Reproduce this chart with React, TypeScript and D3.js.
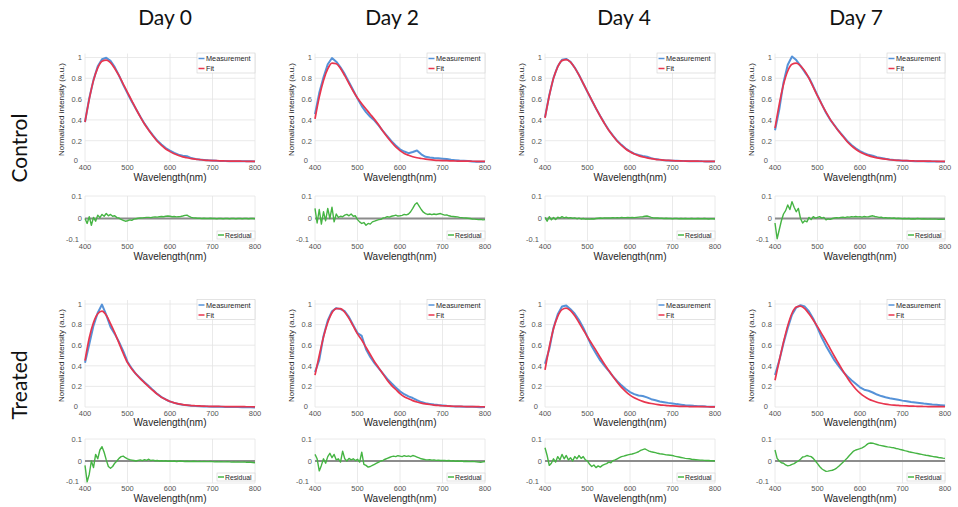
import React from "react";
import * as d3 from "d3";

// ---- sampling grids and axis labels ----
const DAYS = ["Day 0", "Day 2", "Day 4", "Day 7"];
const GROUPS = ["Control", "Treated"];

const FIT_WAVELENGTHS = d3.range(400, 801, 10); // nm, 41 samples
const RESIDUAL_WAVELENGTHS = d3.range(400, 801, 5); // nm, 81 samples

const X_TICKS = [400, 500, 600, 700, 800];
const INTENSITY_TICKS = [0, 0.2, 0.4, 0.6, 0.8, 1];
const INTENSITY_TICK_LABELS = ["0", "0.2", "0.4", "0.6", "0.8", "1"];
const RESIDUAL_TICKS = [-0.1, 0, 0.1];
const RESIDUAL_TICK_LABELS = ["-0.1", "0", "0.1"];

// ---- fitted spectra (normalized intensity, 400–800 nm every 10 nm) ----
const fitControlDay0 = [
  0.38, 0.6, 0.78, 0.9, 0.965, 0.975, 0.95, 0.895, 0.825, 0.745, 0.665, 0.585, 0.505, 0.43, 0.36, 0.3,
  0.245, 0.195, 0.155, 0.12, 0.095, 0.074, 0.058, 0.045, 0.036, 0.028, 0.022, 0.018, 0.014, 0.011, 0.009,
  0.0075, 0.006, 0.005, 0.0042, 0.0035, 0.003, 0.0025, 0.002, 0.0018, 0.0015,
];
const fitControlDay2 = [
  0.41, 0.62, 0.78, 0.89, 0.945, 0.94, 0.895, 0.825, 0.75, 0.675, 0.61, 0.555, 0.505, 0.455, 0.405, 0.35,
  0.29, 0.235, 0.185, 0.14, 0.105, 0.078, 0.06, 0.046, 0.036, 0.029, 0.023, 0.018, 0.014, 0.011, 0.009,
  0.0075, 0.006, 0.005, 0.004, 0.0035, 0.003, 0.0025, 0.002, 0.0018, 0.0015,
];
const fitControlDay4 = [
  0.42, 0.63, 0.8, 0.91, 0.97, 0.98, 0.955, 0.9, 0.83, 0.75, 0.67, 0.59, 0.51, 0.435, 0.365, 0.3, 0.245,
  0.195, 0.155, 0.12, 0.093, 0.072, 0.056, 0.044, 0.035, 0.027, 0.021, 0.017, 0.013, 0.01, 0.008, 0.0065,
  0.0055, 0.0045, 0.004, 0.0033, 0.0028, 0.0023, 0.002, 0.0017, 0.0015,
];
const fitControlDay7 = [
  0.32, 0.55, 0.74, 0.87, 0.935, 0.945, 0.92, 0.87, 0.8, 0.715, 0.63, 0.55, 0.475, 0.405, 0.345, 0.29,
  0.24, 0.19, 0.15, 0.118, 0.092, 0.072, 0.056, 0.044, 0.035, 0.028, 0.022, 0.017, 0.013, 0.011, 0.009,
  0.0075, 0.006, 0.005, 0.004, 0.0035, 0.003, 0.0025, 0.002, 0.0018, 0.0015,
];
const fitTreatedDay0 = [
  0.45, 0.67, 0.82, 0.905, 0.93, 0.89, 0.81, 0.72, 0.62, 0.52, 0.43, 0.37, 0.32, 0.275, 0.235, 0.195,
  0.16, 0.125, 0.095, 0.072, 0.053, 0.04, 0.03, 0.023, 0.018, 0.014, 0.012, 0.01, 0.008, 0.007, 0.006,
  0.0055, 0.005, 0.0045, 0.004, 0.0035, 0.003, 0.003, 0.0025, 0.0025, 0.002,
];
const fitTreatedDay2 = [
  0.31, 0.5, 0.68, 0.82, 0.915, 0.955, 0.955, 0.92, 0.86, 0.785, 0.71, 0.65, 0.58, 0.51, 0.44, 0.38,
  0.32, 0.26, 0.21, 0.17, 0.13, 0.1, 0.08, 0.062, 0.048, 0.038, 0.03, 0.024, 0.019, 0.015, 0.012, 0.01,
  0.008, 0.007, 0.006, 0.005, 0.004, 0.0035, 0.003, 0.0025, 0.002,
];
const fitTreatedDay4 = [
  0.36, 0.58, 0.76, 0.88, 0.945, 0.96, 0.935, 0.885, 0.82, 0.75, 0.68, 0.615, 0.55, 0.48, 0.415, 0.355,
  0.295, 0.24, 0.19, 0.15, 0.115, 0.09, 0.07, 0.055, 0.043, 0.034, 0.027, 0.021, 0.017, 0.013, 0.01,
  0.008, 0.0065, 0.0055, 0.0045, 0.004, 0.0035, 0.003, 0.0025, 0.002, 0.002,
];
const fitTreatedDay7 = [
  0.26, 0.45, 0.63, 0.79, 0.91, 0.97, 0.98, 0.955, 0.905, 0.845, 0.78, 0.71, 0.64, 0.565, 0.49, 0.42,
  0.35, 0.285, 0.225, 0.175, 0.135, 0.103, 0.078, 0.06, 0.046, 0.036, 0.028, 0.022, 0.018, 0.015, 0.012,
  0.01, 0.0085, 0.0072, 0.006, 0.005, 0.0045, 0.004, 0.0035, 0.003, 0.0025,
];

// ---- residuals (measurement − fit, 400–800 nm every 5 nm) ----
const residualControlDay0 = [
  0.0, -0.022, 0.008, -0.03, 0.005, -0.012, 0.015, 0.004, 0.018, 0.01, 0.022, 0.012, 0.018, 0.01, 0.012,
  0.004, 0.002, -0.004, -0.008, -0.012, -0.01, -0.006, -0.008, -0.003, -0.001, 0.001, 0.002, 0.003, 0.004,
  0.005, 0.005, 0.004, 0.006, 0.007, 0.006, 0.008, 0.009, 0.008, 0.01, 0.011, 0.01, 0.008, 0.009, 0.007,
  0.008, 0.009, 0.011, 0.014, 0.015, 0.009, 0.005, 0.003, 0.002, 0.001, 0.001, 0.0, 0.001, 0.0, 0.0, 0.001,
  0.0, 0.0, -0.001, 0.0, 0.0, -0.001, 0.0, 0.0, -0.001, 0.0, 0.0, -0.001, 0.0, 0.0, -0.001, 0.0, 0.0,
  -0.001, 0.0, 0.0, -0.001,
];
const residualControlDay2 = [
  0.045, -0.02, 0.04, -0.025, 0.03, -0.01, 0.045, 0.0, 0.05, -0.015, 0.02, 0.005, 0.01, 0.008, 0.015,
  0.018, 0.012, 0.02, 0.01, 0.012, -0.005, -0.015, -0.022, -0.018, -0.03, -0.022, -0.025, -0.015, -0.012,
  -0.008, -0.005, -0.004, 0.002, 0.004, 0.008, 0.006, 0.01, 0.012, 0.015, 0.011, 0.012, 0.014, 0.018,
  0.016, 0.02, 0.03, 0.045, 0.062, 0.07, 0.055, 0.04, 0.028, 0.022, 0.018, 0.02, 0.017, 0.02, 0.018, 0.02,
  0.022, 0.018, 0.015, 0.016, 0.012, 0.01, 0.009, 0.008, 0.007, 0.005, 0.004, 0.003, 0.002, 0.001, 0.0,
  -0.002, -0.003, -0.004, -0.005, -0.004, -0.006, -0.005,
];
const residualControlDay4 = [
  0.005, -0.012, 0.008, -0.006, 0.004, -0.004, 0.006, 0.002, 0.008, 0.003, 0.006, 0.002, 0.004, 0.001,
  0.003, -0.001, 0.002, -0.002, 0.0, -0.003, -0.002, -0.003, -0.001, -0.002, 0.0, 0.001, 0.002, 0.001,
  0.003, 0.002, 0.003, 0.002, 0.004, 0.003, 0.004, 0.003, 0.005, 0.004, 0.004, 0.005, 0.004, 0.005, 0.004,
  0.005, 0.006, 0.007, 0.008, 0.01, 0.011, 0.008, 0.005, 0.003, 0.002, 0.002, 0.001, 0.001, 0.0, 0.001,
  0.0, 0.0, -0.001, 0.0, 0.0, -0.001, 0.0, -0.001, 0.0, -0.001, -0.001, 0.0, -0.001, -0.001, 0.0, -0.001,
  -0.001, 0.0, -0.001, -0.002, -0.001, -0.001, -0.002,
];
const residualControlDay7 = [
  -0.02, -0.09, -0.05, -0.01, 0.02, 0.035, 0.06, 0.04, 0.075, 0.05, 0.03, 0.045, 0.0, -0.02, -0.01,
  -0.015, 0.005, -0.005, 0.008, 0.002, 0.005, 0.008, 0.002, 0.005, -0.006, -0.002, -0.004, 0.0, 0.002,
  0.004, 0.003, 0.005, 0.006, 0.004, 0.007, 0.006, 0.008, 0.007, 0.009, 0.007, 0.008, 0.006, 0.009, 0.007,
  0.008, 0.01, 0.012, 0.009, 0.007, 0.005, 0.006, 0.003, 0.004, 0.002, 0.003, 0.001, 0.002, 0.0, 0.001,
  0.0, -0.001, 0.0, -0.001, 0.0, -0.002, -0.001, -0.002, 0.0, -0.001, -0.002, -0.001, -0.002, -0.003,
  -0.002, -0.003, -0.002, -0.003, -0.004, -0.003, -0.004, -0.003,
];
const residualTreatedDay0 = [
  -0.02, -0.095, -0.06, 0.0, -0.03, 0.03, 0.01, 0.05, 0.065, 0.04, 0.005, -0.025, -0.033, -0.025, -0.01,
  0.0, 0.012, 0.02, 0.022, 0.015, 0.01, 0.006, 0.004, 0.002, 0.0, 0.003, 0.005, 0.002, 0.006, 0.003, 0.008,
  0.002, 0.004, 0.001, 0.002, 0.0, 0.001, 0.0, 0.001, -0.001, 0.0, -0.001, 0.0, -0.002, -0.001, 0.0,
  -0.001, -0.002, -0.001, -0.002, -0.002, -0.001, -0.002, -0.003, -0.002, -0.003, -0.002, -0.003, -0.003,
  -0.002, -0.003, -0.004, -0.003, -0.004, -0.003, -0.004, -0.004, -0.003, -0.004, -0.005, -0.004, -0.005,
  -0.004, -0.005, -0.005, -0.004, -0.006, -0.005, -0.006, -0.007, -0.008,
];
const residualTreatedDay2 = [
  0.03, 0.01, -0.045, -0.02, 0.01, -0.01, 0.02, 0.035, 0.015, 0.03, 0.005, 0.01, -0.005, 0.045, 0.01, 0.0,
  0.012, 0.005, 0.01, 0.002, 0.008, -0.005, 0.04, -0.015, -0.02, -0.028, -0.025, -0.02, -0.015, -0.01,
  -0.005, 0.0, 0.003, 0.008, 0.012, 0.016, 0.02, 0.022, 0.02, 0.024, 0.022, 0.02, 0.024, 0.021, 0.023,
  0.02, 0.025, 0.022, 0.018, 0.014, 0.01, 0.008, 0.006, 0.005, 0.006, 0.004, 0.005, 0.003, 0.004, 0.002,
  0.003, 0.002, 0.001, 0.002, 0.0, 0.001, -0.001, 0.0, -0.001, 0.0, -0.002, -0.001, -0.002, -0.003, -0.002,
  -0.003, -0.004, -0.005, -0.006, -0.004, -0.002,
];
const residualTreatedDay4 = [
  0.06, 0.025, -0.02, -0.01, 0.01, -0.005, 0.02, 0.005, 0.03, 0.01, 0.025, 0.005, 0.015, 0.0, 0.02, 0.01,
  0.025, 0.012, 0.02, 0.005, 0.0, -0.015, -0.025, -0.018, -0.03, -0.022, -0.028, -0.02, -0.015, -0.012,
  -0.005, -0.008, 0.002, 0.005, 0.01, 0.015, 0.02, 0.022, 0.025, 0.028, 0.03, 0.032, 0.035, 0.038, 0.042,
  0.048, 0.052, 0.055, 0.05, 0.045, 0.042, 0.04, 0.038, 0.035, 0.033, 0.032, 0.03, 0.028, 0.027, 0.026,
  0.025, 0.022, 0.02, 0.018, 0.016, 0.014, 0.012, 0.011, 0.01, 0.008, 0.007, 0.006, 0.005, 0.004, 0.004,
  0.003, 0.002, 0.002, 0.001, 0.001, 0.0,
];
const residualTreatedDay7 = [
  0.05, 0.012, 0.0, -0.008, -0.01, -0.018, -0.022, -0.02, -0.015, -0.012, -0.005, 0.0, 0.008, 0.018, 0.02,
  0.025, 0.022, 0.02, 0.012, 0.0, -0.012, -0.025, -0.035, -0.042, -0.047, -0.046, -0.044, -0.042, -0.038,
  -0.032, -0.024, -0.015, -0.006, 0.004, 0.014, 0.025, 0.035, 0.045, 0.05, 0.053, 0.056, 0.06, 0.065, 0.073,
  0.08, 0.082, 0.081, 0.078, 0.075, 0.072, 0.07, 0.068, 0.066, 0.064, 0.063, 0.061, 0.06, 0.057, 0.055,
  0.052, 0.05, 0.047, 0.045, 0.042, 0.04, 0.038, 0.036, 0.034, 0.032, 0.03, 0.028, 0.026, 0.025, 0.023,
  0.021, 0.019, 0.018, 0.016, 0.015, 0.013, 0.012,
];

const FITS = [
  [fitControlDay0, fitControlDay2, fitControlDay4, fitControlDay7],
  [fitTreatedDay0, fitTreatedDay2, fitTreatedDay4, fitTreatedDay7],
];
const RESIDUALS = [
  [residualControlDay0, residualControlDay2, residualControlDay4, residualControlDay7],
  [residualTreatedDay0, residualTreatedDay2, residualTreatedDay4, residualTreatedDay7],
];

// ---- layout ----
const WIDTH = 958;
const HEIGHT = 507;
const COL_LEFT = [85, 315, 545, 775];
const PLOT_W = 170;
const TITLE_X = [165, 392, 624, 856];
const ROWS = [
  { mainTop: 57.5, mainBottom: 161.5, resTop: 196, resBottom: 241, labelY: 148 },
  { mainTop: 304, mainBottom: 407, resTop: 439, resBottom: 483, labelY: 385 },
];

const BLUE = "#5592d8";
const RED = "#e8354e";
const GREEN = "#45b443";
const GRID = "#e4e4e4";
const TICK_COLOR = "#555555";
const LABEL_COLOR = "#262626";
const AXIS_FONT = "'Liberation Sans', Arial, sans-serif";
const TITLE_FONT = "Lato, 'Open Sans', sans-serif";

type PanelProps = {
  left: number;
  row: (typeof ROWS)[number];
  fit: number[];
  residual: number[];
};

function Panel({ left, row, fit, residual }: PanelProps) {
  const right = left + PLOT_W;
  const x = d3.scaleLinear().domain([400, 800]).range([left, right]);
  const y = d3.scaleLinear().domain([0, 1]).range([row.mainBottom, row.mainTop]);
  const yr = d3.scaleLinear().domain([-0.1, 0.1]).range([row.resBottom, row.resTop]);

  const fitPoints = FIT_WAVELENGTHS.map((w, i) => ({ w, v: fit[i] }));
  // measured spectrum = fitted curve + residual at the same wavelength
  const measPoints = FIT_WAVELENGTHS.map((w, i) => ({ w, v: fit[i] + residual[i * 2] }));
  const resPoints = RESIDUAL_WAVELENGTHS.map((w, i) => ({ w, v: residual[i] }));

  const mainLine = d3
    .line<{ w: number; v: number }>()
    .x((d) => x(d.w))
    .y((d) => y(d.v));
  const fitPath = mainLine.curve(d3.curveMonotoneX)(fitPoints) || "";
  const measPath = mainLine.curve(d3.curveLinear)(measPoints) || "";
  const resPath =
    d3
      .line<{ w: number; v: number }>()
      .x((d) => x(d.w))
      .y((d) => yr(d.v))(resPoints) || "";

  const midX = (left + right) / 2;
  const legendX = right - 58;
  const resLegendX = right - 38;

  return (
    <g>
      {/* main spectrum axes */}
      <g>
        {X_TICKS.map((t) => (
          <line key={"gx" + t} x1={x(t)} x2={x(t)} y1={row.mainTop - 4} y2={row.mainBottom} stroke={GRID} strokeWidth={0.8} />
        ))}
        {INTENSITY_TICKS.map((t) => (
          <line key={"gy" + t} x1={left} x2={right} y1={y(t)} y2={y(t)} stroke={GRID} strokeWidth={0.8} />
        ))}
        {INTENSITY_TICKS.map((t, i) => (
          <text key={"ty" + t} x={left - (t === 0 ? 7 : 3)} y={y(t) + (t === 0 ? 1.5 : 2.8)} fontSize={7.5} fill={TICK_COLOR} textAnchor="end" fontFamily={AXIS_FONT}>
            {INTENSITY_TICK_LABELS[i]}
          </text>
        ))}
        {X_TICKS.map((t) => (
          <text key={"tx" + t} x={x(t)} y={row.mainBottom + 8.5} fontSize={7.5} fill={TICK_COLOR} textAnchor="middle" fontFamily={AXIS_FONT}>
            {t}
          </text>
        ))}
        <text x={midX} y={row.mainBottom + 19} fontSize={10} fill={LABEL_COLOR} textAnchor="middle" fontFamily={AXIS_FONT}>
          Wavelength(nm)
        </text>
        <text
          transform={`translate(${left - 21},${(row.mainTop + row.mainBottom) / 2}) rotate(-90)`}
          fontSize={8}
          fill={LABEL_COLOR}
          textAnchor="middle"
          fontFamily={AXIS_FONT}
        >
          Normalized intensity (a.u.)
        </text>
        <path d={measPath} fill="none" stroke={BLUE} strokeWidth={2} strokeLinejoin="round" />
        <path d={fitPath} fill="none" stroke={RED} strokeWidth={1.7} strokeLinejoin="round" />
        {/* legend */}
        <rect x={legendX} y={row.mainTop - 4.5} width={58} height={20} fill="white" fillOpacity={0.9} stroke="#d0d0d0" strokeWidth={0.6} />
        <line x1={legendX + 1.5} x2={legendX + 7.5} y1={row.mainTop + 1} y2={row.mainTop + 1} stroke={BLUE} strokeWidth={1.5} />
        <text x={legendX + 9} y={row.mainTop + 3.6} fontSize={7.3} fill={LABEL_COLOR} fontFamily={AXIS_FONT}>
          Measurement
        </text>
        <line x1={legendX + 1.5} x2={legendX + 7.5} y1={row.mainTop + 11} y2={row.mainTop + 11} stroke={RED} strokeWidth={1.5} />
        <text x={legendX + 9} y={row.mainTop + 13.6} fontSize={7.3} fill={LABEL_COLOR} fontFamily={AXIS_FONT}>
          Fit
        </text>
      </g>

      {/* residual axes */}
      <g>
        {X_TICKS.map((t) => (
          <line key={"rgx" + t} x1={x(t)} x2={x(t)} y1={row.resTop} y2={row.resBottom} stroke={GRID} strokeWidth={0.8} />
        ))}
        {RESIDUAL_TICKS.map((t) => (
          <line key={"rgy" + t} x1={left} x2={right} y1={yr(t)} y2={yr(t)} stroke={GRID} strokeWidth={0.8} />
        ))}
        <line x1={left} x2={right} y1={yr(0)} y2={yr(0)} stroke="#8c8c8c" strokeWidth={1.8} />
        {RESIDUAL_TICKS.map((t, i) => (
          <text key={"rty" + t} x={left - (t < 0 ? 6 : 3)} y={yr(t) + (t < 0 ? 1 : 2.8)} fontSize={7.5} fill={TICK_COLOR} textAnchor="end" fontFamily={AXIS_FONT}>
            {RESIDUAL_TICK_LABELS[i]}
          </text>
        ))}
        {X_TICKS.map((t) => (
          <text key={"rtx" + t} x={x(t)} y={row.resBottom + 8} fontSize={7.5} fill={TICK_COLOR} textAnchor="middle" fontFamily={AXIS_FONT}>
            {t}
          </text>
        ))}
        <text x={midX} y={row.resBottom + 18.5} fontSize={10} fill={LABEL_COLOR} textAnchor="middle" fontFamily={AXIS_FONT}>
          Wavelength(nm)
        </text>
        <path d={resPath} fill="none" stroke={GREEN} strokeWidth={1.4} strokeLinejoin="round" />
        <rect x={resLegendX} y={row.resBottom - 10} width={38} height={8} fill="white" fillOpacity={0.9} stroke="#d0d0d0" strokeWidth={0.6} />
        <line x1={resLegendX + 1} x2={resLegendX + 7} y1={row.resBottom - 6} y2={row.resBottom - 6} stroke={GREEN} strokeWidth={1.5} />
        <text x={resLegendX + 8} y={row.resBottom - 3.5} fontSize={6.8} fill={LABEL_COLOR} fontFamily={AXIS_FONT}>
          Residual
        </text>
      </g>
    </g>
  );
}

export default function App() {
  return (
    <svg
      width={WIDTH}
      height={HEIGHT}
      viewBox={`0 0 ${WIDTH} ${HEIGHT}`}
      style={{ position: "absolute", left: 0, top: 0, background: "white" }}
    >
      <rect width={WIDTH} height={HEIGHT} fill="white" />
      {DAYS.map((d, c) => (
        <text key={d} x={TITLE_X[c]} y={25} fontSize={21} fill="#111" textAnchor="middle" fontFamily={TITLE_FONT}>
          {d}
        </text>
      ))}
      {GROUPS.map((g, r) => (
        <text
          key={g}
          transform={`translate(27,${ROWS[r].labelY}) rotate(-90)`}
          fontSize={21}
          fill="#111"
          textAnchor="middle"
          fontFamily={TITLE_FONT}
        >
          {g}
        </text>
      ))}
      {GROUPS.map((g, r) =>
        DAYS.map((d, c) => (
          <Panel key={g + d} left={COL_LEFT[c]} row={ROWS[r]} fit={FITS[r][c]} residual={RESIDUALS[r][c]} />
        ))
      )}
    </svg>
  );
}
